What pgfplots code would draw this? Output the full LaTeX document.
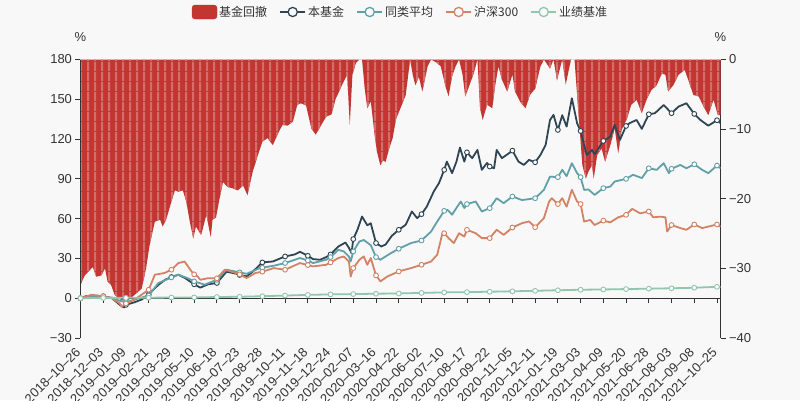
\documentclass[border=0pt]{standalone}
\usepackage{fontspec}
\setmainfont{Liberation Sans}
\newfontfamily\cjk{Noto Sans CJK SC}
\usepackage{pgfplots}
\usepackage{pgfplotstable}
\pgfplotsset{compat=1.18}
\usetikzlibrary{patterns}

\definecolor{bgc}{HTML}{F8F8F8}
\definecolor{ddred}{HTML}{C23531}
\definecolor{fundc}{HTML}{2F4554}
\definecolor{peerc}{HTML}{61A0A8}
\definecolor{hsc}{HTML}{D48265}
\definecolor{benchc}{HTML}{91C7AE}
\definecolor{axc}{HTML}{333333}

% light vertical stripes seen on the dense drawdown bars
\pgfdeclarepatternformonly{ddstripes}{\pgfpointorigin}{\pgfpoint{7.3pt}{10pt}}{\pgfpoint{7.3pt}{10pt}}{%
  \pgfpathrectangle{\pgfpointorigin}{\pgfpoint{2.2pt}{10pt}}\pgfusepath{fill}}

% drawdown of the fund, % (right axis)
\pgfplotstableread{
i v
0 -32.4
3 -31.5
5 -31
9 -30.5
14 -29.8
18 -31.2
24 -31
28 -30
31 -31.9
35 -32.4
39 -33.8
47 -34.6
54 -34.6
62 -33.8
70 -32.9
75 -30
79 -26.7
85 -23.3
91 -23
94 -24
98 -23
104 -20.4
108 -18.8
112 -19
117 -18.8
121 -20.4
125 -23.3
129 -25.7
132 -24
138 -25.2
144 -22.3
147 -24.3
149 -25.5
151 -23
155 -22.7
159 -20
163 -17.6
168 -18.3
174 -18.5
180 -18.8
186 -18.1
191 -19.5
197 -16.1
203 -13.7
208 -11.8
214 -11.3
220 -12.3
226 -10.6
231 -9.4
237 -9.5
243 -8.9
248 -6.5
252 -6.3
258 -6.6
264 -9.9
269 -10.8
275 -9.5
281 -8.2
287 -7.9
292 -5.6
294 -5.1
299 -3.7
305 -2.2
308 -9.4
311 -2.2
315 -0.5
319 0
322 0
325 -4.1
328 -7
332 -6
336 -10.4
339 -13.2
343 -15.2
346 -14.5
349 -14.7
353 -12.8
357 -11.3
361 -8.5
366 -7
372 -5.1
377 0
380 -2.2
383 -3.7
387 -2.5
391 -4.6
397 -1
401 0
408 -0.5
412 -1
418 -4.1
421 -5.3
425 -2.4
429 -1
433 0
437 -2.2
440 -5.3
444 -4
450 -1.9
454 0
457 -7
460 -8.7
465 -6.5
471 -7
474 -4
478 -1
482 -2.9
488 -4.6
494 -2.2
497 -4.6
503 -6.1
509 -7
514 -5.1
520 -4.2
526 -1
530 0
537 -1.3
541 0
545 -3
551 0
555 -3.6
561 0
565 0
567 -3.4
570 -8.5
574 -15.2
578 -17.1
581 -16.1
585 -15.2
587 -17.1
591 -13.7
596 -12.8
600 -14.7
606 -12.3
611 -9.9
615 -13.5
619 -10.1
625 -8.5
630 -6.5
636 -5.8
642 -7.7
648 -5.6
653 -4.4
659 -3.7
665 -2
669 -2.2
672 -4.6
678 -3.7
684 -2.2
691 -1.5
695 -2.9
701 -5.1
707 -5.3
712 -6.6
718 -8
724 -5.8
729 -8
732 -8
}\ddtab

% cumulative return of the fund, %
\pgfplotstableread{
i v
0 0
6 1.5
13 2
20 0.5
26 1.5
36 0
45 -5
50 -7
52 -5
62 -3
70 -1
78 3
89 10
97 14
104 16
112 17.7
120 15
130 10.5
137 8
146 10.5
156 11.5
167 20
178 18.5
182 17.5
190 16.5
197 20
208 27
220 27.7
234 31.5
245 33
251 35
260 32
266 29.5
274 29
281 31
286 33
295 39
303 42
307 38
310 34
312 44.6
317 52
322 61.6
328 55
332 56.5
338 41.6
344 39
349 40.5
356 47
364 51.6
372 55.4
379 65.4
385 60.4
390 63.4
396 69
404 80.4
410 86.8
416 96.8
419 103
425 94.3
430 103
434 113.6
439 103
442 110
448 105.6
454 111.8
459 96.8
465 102
468 99.3
473 98
476 111.8
482 105.6
490 109.3
494 111.3
501 103
507 100.5
513 104.3
520 102.5
526 108
532 115.6
537 134.4
541 138.2
546 126.9
551 138
556 129.4
562 150.8
568 131.9
572 126.1
576 115.6
579 108
585 111.8
588 108.6
598 118.6
606 121.9
611 130.7
617 119.4
624 129.9
628 132
636 134.4
642 127.7
650 138.7
657 139.5
667 145.7
676 139.5
684 144.5
693 147
702 139
709 134.4
718 130.1
728 134.2
732 132
}\fundtab

% peer average
\pgfplotstableread{
i v
0 0
13 1.5
26 1
36 0.5
45 -2
52 -3
62 -1
78 2
89 11.4
104 15.7
112 17.7
123 15
130 12.7
142 10.2
156 13.9
167 21.5
178 20
182 19.5
190 18.4
205 22.7
208 23
221 24.5
234 26.5
251 30.3
260 28.5
266 26.5
281 29
286 31
295 36.5
301 35.3
307 31.5
309 27.7
312 35.3
319 42.8
324 43.9
332 40
338 31
343 29
355 34
364 37.3
378 41.6
390 43.5
401 50.3
408 57.8
416 65.9
420 66.5
425 63
431 69.1
435 72.9
439 68
442 71
452 72.9
459 65.4
468 67.9
476 75.4
484 71.7
494 76.7
505 74
520 75.4
530 81.7
537 91.7
546 91.3
551 96.8
556 92
562 101.8
568 94.3
572 91.3
576 81.7
581 82
588 77.9
598 83
606 84.2
611 88
624 90
632 93.1
642 90.6
650 98
659 96.8
667 101.8
673 94.3
676 97.6
686 100.5
693 98
702 101
711 96.8
718 94.3
728 100
732 98
}\peertab

% CSI 300
\pgfplotstableread{
i v
0 0
13 2.6
26 1.5
36 0
45 -4
47 -6.4
52 -4
62 -1
78 6.4
85 17.7
96 19
104 21.5
112 26.5
119 27.7
127 20.2
130 18
134 16.4
137 13.9
145 15
156 15
165 21.5
178 19
182 18
190 15.2
200 19
208 20
221 22.7
234 21.5
251 26.5
260 25
266 24
281 25.2
286 27
295 30.3
301 31.5
307 27.7
309 16.4
312 22.7
319 29
324 31.5
328 25.2
332 30.3
338 17.2
343 12.7
351 16.4
364 20.2
378 22.7
390 25.2
401 27.7
408 32.8
414 49.1
416 49
421 45.3
427 41.6
433 49
439 46.5
442 51.6
452 49
459 45.3
468 45.3
476 51.6
484 47.8
494 53.3
505 56.6
513 57.9
520 53.5
530 60.4
536 72.9
539 75.4
546 71
551 75.4
556 69
562 81.7
568 72.9
572 71
576 57.8
583 59
588 55.2
598 58.5
606 57.2
615 61
624 62.9
631 67.4
640 64
650 65.4
655 61
663 61.5
669 61
671 50.3
676 55.2
686 52.9
693 51.6
702 55.6
711 52.9
718 54
728 55.6
732 54
}\hstab

% benchmark
\pgfplotstableread{
i v
0 0
26 0.2
52 0.3
78 0.4
104 0.5
130 0.6
156 0.9
182 1.1
208 1.5
234 2
260 2.5
286 2.9
312 3.1
338 3.4
364 3.6
390 4
416 4.4
442 4.6
468 4.9
494 5.2
520 5.6
546 6
572 6.4
598 6.6
624 6.9
650 7.2
676 7.5
702 7.9
728 8.6
732 8.7
}\benchtab

\pgfplotsset{
  base/.style={
    scale only axis, width=640pt, height=278.5pt,
    at={(0,0)}, anchor=south west,
    xmin=0, xmax=732, clip mode=individual,
    tick align=outside, major tick length=5pt,
    axis line style={axc, line width=0.8pt},
    tick style={axc, line width=0.8pt},
    tick label style={font=\fontsize{13}{15}\selectfont, text=axc},
  },
  ser/.style={#1, line width=1.8pt, line join=round, forget plot},
  pts/.style={only marks, mark=*, mark size=2.4pt,
    mark options={draw=#1, fill=white, line width=0.9pt},
    x filter/.expression={mod(x,26)==0 ? x : nan}, forget plot},
}

\begin{document}
\begin{tikzpicture}
\path[use as bounding box, fill=bgc] (-80.5pt,-62pt) rectangle (719.5pt,338pt);

\begin{axis}[base, ymin=-40, ymax=0,
  axis x line=none, axis y line*=right,
  ytick={-40,-30,-20,-10,0}, yticklabels={−40,−30,−20,−10,0}]
\addplot[fill=ddred, draw=none, forget plot] table[x=i,y=v]{\ddtab} \closedcycle;
\addplot[pattern=ddstripes, pattern color=ddred!72!white, draw=none, forget plot] table[x=i,y=v]{\ddtab} \closedcycle;
\node[font=\fontsize{13}{15}\selectfont, text=axc] at (rel axis cs:1,1) [yshift=22.5pt] {\%};
\end{axis}

\begin{axis}[base, ymin=-30, ymax=180,
  axis x line*=middle, axis y line*=left,
  hide obscured x ticks=false,
  ytick={-30,0,...,180}, yticklabels={−30,0,30,60,90,120,150,180},
  xtick={0,26,...,728},
  xticklabels={2018--10--26,2018--12--03,2019--01--09,2019--02--21,2019--03--29,2019--05--10,2019--06--18,2019--07--23,2019--08--28,2019--10--11,2019--11--18,2019--12--24,2020--02--07,2020--03--16,2020--04--22,2020--06--02,2020--07--10,2020--08--17,2020--09--22,2020--11--05,2020--12--11,2021--01--19,2021--03--03,2021--04--09,2021--05--20,2021--06--28,2021--08--03,2021--09--08,2021--10--25},
  xticklabel style={yshift=-44pt, rotate=45, anchor=east},
  legend columns=5,
  legend style={at={(0.5,1)}, anchor=center, yshift=47.5pt, draw=none, fill=none,
    font=\cjk\fontsize{12}{14}\selectfont, text=axc,
    /tikz/every even column/.append style={column sep=10pt}},
]
\addplot[ser=fundc] table[x=i,y=v]{\fundtab};
\addplot[pts=fundc] table[x=i,y=v]{\fundtab};
\addplot[ser=peerc] table[x=i,y=v]{\peertab};
\addplot[pts=peerc] table[x=i,y=v]{\peertab};
\addplot[ser=hsc] table[x=i,y=v]{\hstab};
\addplot[pts=hsc] table[x=i,y=v]{\hstab};
\addplot[ser=benchc] table[x=i,y=v]{\benchtab};
\addplot[pts=benchc] table[x=i,y=v]{\benchtab};
\node[font=\fontsize{13}{15}\selectfont, text=axc] at (rel axis cs:0,1) [yshift=22.5pt] {\%};

\addlegendimage{legend image code/.code={\fill[ddred, rounded corners=3pt] (0pt,-7pt) rectangle (25pt,7pt);}}
\addlegendentry{基金回撤}
\addlegendimage{legend image code/.code={\draw[fundc, line width=2pt] (0pt,0pt) -- (25pt,0pt); \draw[fundc, line width=1.3pt, fill=bgc] (12.5pt,0pt) circle (4.6pt);}}
\addlegendentry{本基金}
\addlegendimage{legend image code/.code={\draw[peerc, line width=2pt] (0pt,0pt) -- (25pt,0pt); \draw[peerc, line width=1.3pt, fill=bgc] (12.5pt,0pt) circle (4.6pt);}}
\addlegendentry{同类平均}
\addlegendimage{legend image code/.code={\draw[hsc, line width=2pt] (0pt,0pt) -- (25pt,0pt); \draw[hsc, line width=1.3pt, fill=bgc] (12.5pt,0pt) circle (4.6pt);}}
\addlegendentry{沪深300}
\addlegendimage{legend image code/.code={\draw[benchc, line width=2pt] (0pt,0pt) -- (25pt,0pt); \draw[benchc, line width=1.3pt, fill=bgc] (12.5pt,0pt) circle (4.6pt);}}
\addlegendentry{业绩基准}
\end{axis}
\end{tikzpicture}
\end{document}
